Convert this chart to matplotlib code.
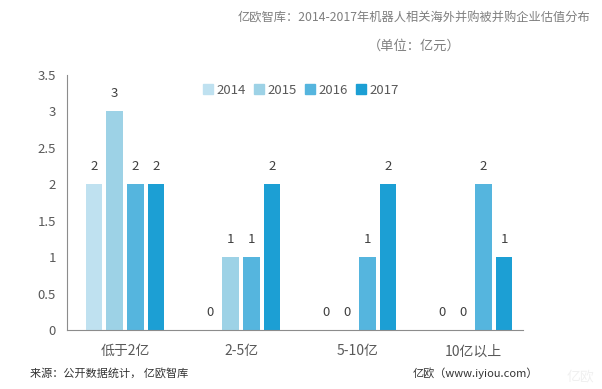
import matplotlib.pyplot as plt
from matplotlib.patches import Patch

plt.rcParams["font.family"] = ["Noto Sans CJK SC", "DejaVu Sans"]

categories = ["低于2亿", "2-5亿", "5-10亿", "10亿以上"]
years = ["2014", "2015", "2016", "2017"]
values_2014 = [2, 0, 0, 0]
values_2015 = [3, 1, 0, 0]
values_2016 = [2, 1, 1, 2]
values_2017 = [2, 2, 2, 1]
series = [values_2014, values_2015, values_2016, values_2017]
colors = ["#bfe1f0", "#9dd2e6", "#55b5de", "#1c9fd4"]
y_ticks = [0, 0.5, 1, 1.5, 2, 2.5, 3, 3.5]
y_tick_labels = ["0", "0.5", "1", "1.5", "2", "2.5", "3", "3.5"]


def main():
    fig = plt.figure(figsize=(6.02, 3.89), dpi=100)
    ax = fig.add_axes([0.1113, 0.1504, 0.7575, 0.6568])

    pitch = 0.178
    width = 0.142
    for i, values in enumerate(series):
        offset = (i - 1.5) * pitch
        xs = [c + offset for c in range(len(categories))]
        ax.bar(xs, values, width=width, color=colors[i], label=years[i])
        for x, v in zip(xs, values):
            ax.annotate(str(v), (x, v), xytext=(0, 13), textcoords="offset points",
                        ha="center", va="center", fontsize=9.5, color="#404040")

    ax.set_xlim(-0.5, 3.43)
    ax.set_ylim(0, 3.5)
    ax.set_yticks(y_ticks)
    ax.set_yticklabels(y_tick_labels)
    ax.set_xticks(range(len(categories)))
    ax.set_xticklabels(categories)
    ax.tick_params(axis="y", length=0, pad=8, labelsize=9.5, labelcolor="#595959")
    ax.tick_params(axis="x", length=0, pad=10, labelsize=10, labelcolor="#595959")

    for side in ["top", "right"]:
        ax.spines[side].set_visible(False)
    ax.spines["left"].set_color("#8c8c8c")
    ax.spines["bottom"].set_color("#8c8c8c")

    handles = [Patch(color=c) for c in colors]
    ax.legend(handles, years, loc="center", bbox_to_anchor=(0.513, 0.941), ncol=4,
              frameon=False, handlelength=0.75, handleheight=0.75,
              handletextpad=0.3, columnspacing=0.6, fontsize=9.5,
              labelcolor="#595959")

    fig.text(0.688, 0.953, "亿欧智库：2014-2017年机器人相关海外并购被并购企业估值分布",
             ha="center", va="center", fontsize=8.8, color="#7f7f7f")
    fig.text(0.688, 0.882, "（单位：亿元）", ha="center", va="center",
             fontsize=9.5, color="#7f7f7f")

    fig.text(0.05, 0.041, "来源：公开数据统计， 亿欧智库", ha="left", va="center",
             fontsize=8, color="#333333")
    fig.text(0.686, 0.041, "亿欧（www.iyiou.com）", ha="left", va="center",
             fontsize=8, color="#333333")
    fig.text(0.965, 0.03, "亿欧", ha="center", va="center", fontsize=10,
             color="#f0f0f0")

    fig.savefig("out.png", dpi=100)
    plt.close(fig)


if __name__ == "__main__":
    main()
